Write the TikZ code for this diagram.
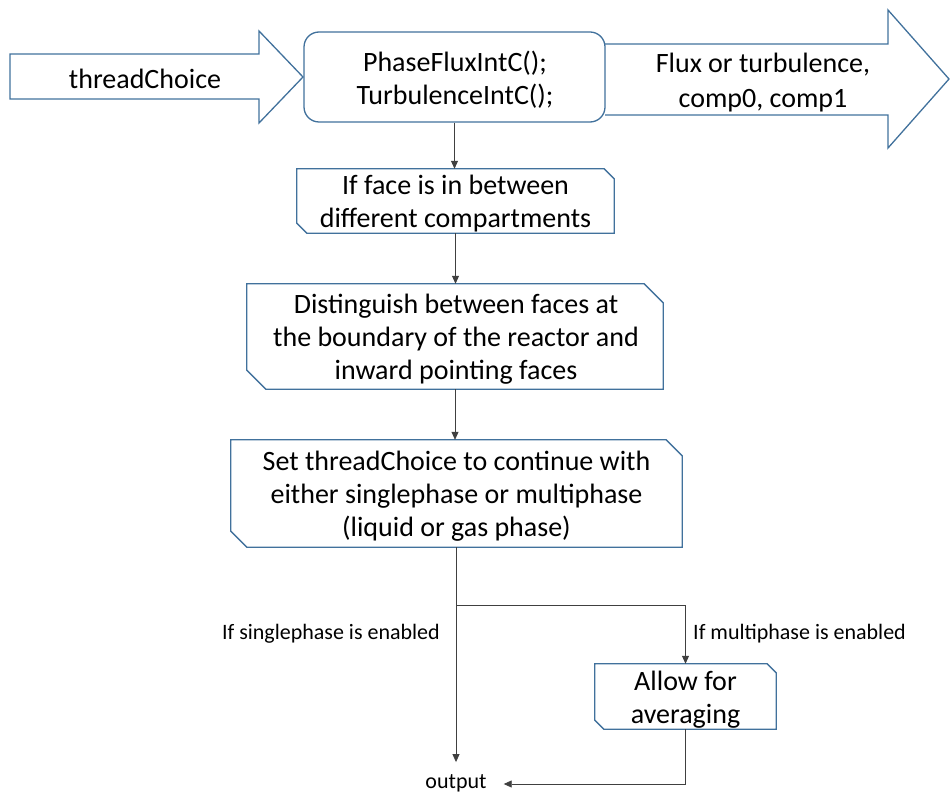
\documentclass[tikz,border=0pt]{standalone}
\usepackage{fontspec}
\setmainfont{Carlito}
\usetikzlibrary{arrows.meta,calc}
\definecolor{bblue}{RGB}{65,113,156}
\definecolor{lgray}{RGB}{64,64,64}
\newcommand\snipbox[2]{\draw[boxline] (#1.north west) -- ([xshift=-#2]#1.north east) -- ([yshift=-#2]#1.north east) -- (#1.south east) -- ([xshift=#2]#1.south west) -- ([yshift=#2]#1.south west) -- cycle;}
\begin{document}
\begin{tikzpicture}[x=1pt,y=-1pt,
  boxline/.style={draw=bblue,line width=1.3pt,line join=miter},
  holder/.style={inner sep=0pt},
  txt/.style={align=center,font=\fontsize{28}{33}\selectfont,inner sep=0pt},
  lbl/.style={font=\fontsize{22}{26}\selectfont,inner sep=0pt},
  conn/.style={draw=lgray,line width=0.8pt,-{Triangle[length=8pt,width=7pt]}},
  plainline/.style={draw=lgray,line width=0.8pt}]
\useasboundingbox (0,0) rectangle (950,794);

% input arrow
\node[txt] (tc) at (145,78.5) {threadChoice};
\draw[boxline] (10,54) -- (259,54) -- (259,31) -- (303,77) -- (259,123) -- (259,99) -- (10,99) -- cycle;

% output arrow
\node[txt,font=\fontsize{28}{35}\selectfont] (fl) at (763,83) {Flux or turbulence,\\comp0, comp1};
\draw[boxline] (605,44) -- (888,44) -- (888,10) -- (949,79) -- (888,148) -- (888,115) -- (605,115);

% rounded box
\node[holder,draw=bblue,line width=1.3pt,rounded corners=15pt,minimum width=301pt,minimum height=90pt,fill=white] (pf) at (454.5,77) {};
\node[txt] (pft) at (455,79.5) {PhaseFluxIntC();\\TurbulenceIntC();};

% snipped boxes
\node[holder,minimum width=317pt,minimum height=64pt] (b1) at (455.5,201) {};
\node[txt] (b1t) at (455.5,204) {If face is in between\\different compartments};
\snipbox{b1}{10pt}
\node[holder,minimum width=416pt,minimum height=105pt] (b2) at (455,336.5) {};
\node[txt] (b2t) at (456,339.5) {Distinguish between faces at\\the boundary of the reactor and\\inward pointing faces};
\snipbox{b2}{19pt}
\node[holder,minimum width=451pt,minimum height=107pt] (b3) at (456.5,493.5) {};
\node[txt] (b3t) at (456.5,496.5) {Set threadChoice to continue with\\either singlephase or multiphase\\(liquid or gas phase)};
\snipbox{b3}{16pt}
\node[holder,minimum width=181pt,minimum height=65pt] (b4) at (685.5,696.5) {};
\node[txt] (b4t) at (685.5,699.5) {Allow for\\averaging};
\snipbox{b4}{9pt}

% labels
\node[lbl,anchor=east] (ls) at (440,633.5) {If singlephase is enabled};
\node[lbl,anchor=west] (lm) at (693,633.5) {If multiphase is enabled};
\node[lbl] (out) at (456,783.5) {output};

% connectors
\draw[conn] (pf.south) -- (pf.south |- b1.north);
\draw[conn] (b1.south) -- (b1.south |- b2.north);
\draw[conn] (b2.south) -- (b2.south |- b3.north);
\coordinate (split) at (456,605);
\draw[plainline] (b3.south -| split) -- (split);
\draw[conn] (split) -- (split -| b4.north) -- (b4.north);
\draw[conn,shorten >=12.5pt] (split) -- (out.north);
\draw[conn,shorten >=17pt] (b4.south) -- (b4.south |- 0,784) -- (out.east |- 0,784);
\end{tikzpicture}
\end{document}
